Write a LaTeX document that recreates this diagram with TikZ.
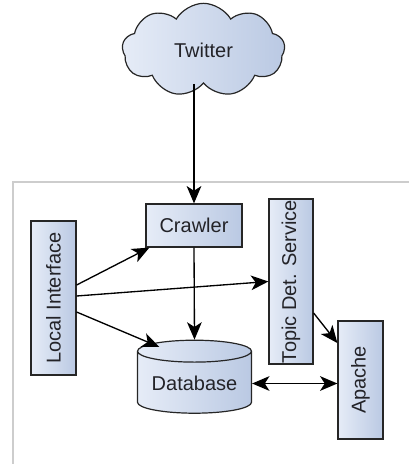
\documentclass[tikz,border=0pt]{standalone}
\usepackage{fontspec}
\setmainfont{Liberation Sans}
\usetikzlibrary{shapes.geometric,shapes.symbols,arrows.meta}

\definecolor{boxlight}{RGB}{230,236,247}
\definecolor{boxdark}{RGB}{186,201,227}
\definecolor{boxtext}{RGB}{35,35,40}
\definecolor{framegray}{RGB}{205,205,205}

\tikzset{
  box/.style={draw=black!85, line width=0.9pt, left color=boxlight, right color=boxdark,
    text=boxtext, inner sep=0.75pt, font=\fontsize{15}{18}\selectfont},
  link/.style={line width=1pt, -{Stealth[length=13pt,width=11pt,inset=3.5pt]}},
  biglink/.style={line width=1pt, {Stealth[length=13pt,width=11pt,inset=3.5pt]}-{Stealth[length=13pt,width=11pt,inset=3.5pt]}}
}

\begin{document}
\begin{tikzpicture}[x=0.75pt,y=0.75pt,yscale=-1,xscale=1]
    \useasboundingbox (0,0) rectangle (409,464);

    %Shape: Frame
    \draw [framegray, line width=0.8pt] (13,464) -- (13,182) -- (409,182) ;

    %Shape: Cloud
    \node [box, cloud, cloud puffs=9, cloud puff arc=120, aspect=1.9,
      minimum width=122pt, minimum height=70pt] (twitter) at (203.5,50) {Twitter};

    %Shape: Rectangle
    \node [box, minimum width=72pt, minimum height=32.25pt] (crawler) at (194,225.5) {Crawler};
    %Shape: Rectangle
    \node [box, minimum width=33.75pt, minimum height=115.5pt] (local) at (53.5,298) {\rotatebox{90}{Local Interface}};
    %Shape: Rectangle
    \node [box, minimum width=33pt, minimum height=116.25pt] (topic) at (291,281.5) {\rotatebox{90}{Topic Det. Service}};
    %Shape: Rectangle
    \node [box, minimum width=33.75pt, minimum height=88.5pt] (apache) at (360.5,380) {\rotatebox{90}{Apache}};
    %Shape: Can
    \node [box, cylinder, shape border rotate=90, aspect=0.25,
      minimum width=85.5pt, minimum height=54.75pt] (db) at (194.5,383.5) {Database};

    %Straight Lines
    \draw [link] (twitter.south -| crawler.north) -- (crawler.north) ;
    \draw [link] (crawler.south) -- (db.north) ;
    \draw [link] ([yshift=-9.75pt]local.east) -- ([xshift=3pt]crawler.south west) ;
    \draw [link] ([yshift=-1.5pt]local.east) -- (topic.west) ;
    \draw [link] ([yshift=10.5pt]local.east) -- ([xshift=4pt,yshift=3pt]db.north west) ;
    \draw [link] ([yshift=23.6pt]topic.east) -- ([yshift=17pt]apache.north west) ;
    \draw [biglink] (db.east) -- (apache.west |- db.east) ;

\end{tikzpicture}
\end{document}
